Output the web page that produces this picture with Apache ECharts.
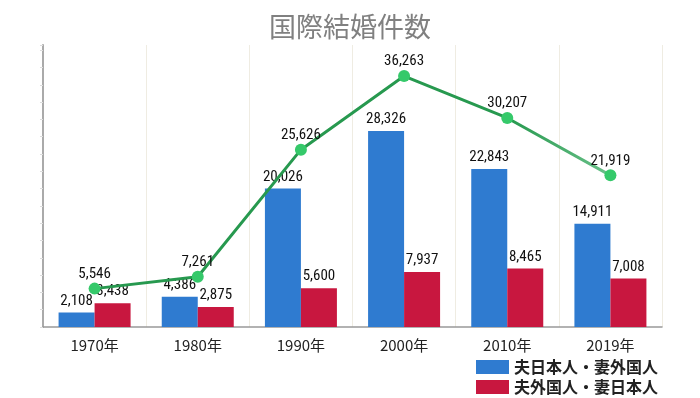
<!DOCTYPE html>
<html>
<head>
<meta charset="utf-8">
<script src="https://cdn.jsdelivr.net/npm/echarts@6/dist/echarts.min.js"></script>
<style>
  html, body { margin: 0; padding: 0; background: #fff; }
  #chart { width: 700px; height: 398px; }
</style>
</head>
<body>
<div id="chart"></div>
<script>
// 国際結婚件数
var years = ['1970年', '1980年', '1990年', '2000年', '2010年', '2019年'];
var husbandJp = [2108, 4386, 20026, 28326, 22843, 14911]; // 夫日本人・妻外国人
var wifeJp = [3438, 2875, 5600, 7937, 8465, 7008];       // 夫外国人・妻日本人
var totals = [5546, 7261, 25626, 36263, 30207, 21919];

var numFont = "'Roboto Condensed', 'Liberation Sans Narrow', 'DejaVu Sans Condensed', sans-serif";
var jpFont = "'Noto Sans CJK JP', sans-serif";

function fmt(p) {
  return echarts.format.addCommas(p.value);
}

var myChart = echarts.init(document.getElementById('chart'));
var option = {
  animation: false,
  title: {
    text: '国際結婚件数',
    left: 'center',
    top: 8,
    textStyle: { fontFamily: jpFont, fontSize: 27, fontWeight: 'normal', color: '#808080' }
  },
  legend: {
    data: ['夫日本人・妻外国人', '夫外国人・妻日本人'],
    orient: 'vertical',
    left: 476,
    top: 359,
    padding: 0,
    itemWidth: 33,
    itemHeight: 14,
    itemGap: 4,
    icon: 'rect',
    textStyle: { fontFamily: jpFont, fontSize: 16, lineHeight: 15, fontWeight: 'bold', color: '#222' }
  },
  grid: { left: 43, right: 38, top: 45, bottom: 71 },
  xAxis: {
    type: 'category',
    data: years,
    axisLine: { lineStyle: { color: '#999', width: 1.5 } },
    axisTick: { show: false },
    axisLabel: { fontFamily: jpFont, fontSize: 15, color: '#222', margin: 11 },
    splitLine: { show: true, lineStyle: { color: '#efece2', width: 1 } }
  },
  yAxis: {
    type: 'value',
    min: 0,
    max: 40750,
    interval: 2500,
    axisLine: { show: true, lineStyle: { color: '#aaa', width: 2 } },
    axisTick: { show: true, length: 3, lineStyle: { color: '#ddd' } },
    axisLabel: { show: false },
    splitLine: { show: false }
  },
  series: [
    {
      name: '夫日本人・妻外国人',
      type: 'bar',
      data: husbandJp,
      barWidth: 36,
      barGap: '0%',
      itemStyle: { color: '#2f7bd0' },
      label: { show: true, position: 'top', distance: 4, formatter: fmt,
        fontFamily: numFont, fontSize: 15, color: '#111' }
    },
    {
      name: '夫外国人・妻日本人',
      type: 'bar',
      data: wifeJp,
      barWidth: 36,
      itemStyle: { color: '#c8173f' },
      label: { show: true, position: 'top', distance: 4, formatter: fmt,
        fontFamily: numFont, fontSize: 15, color: '#111' }
    },
    {
      name: '合計',
      type: 'line',
      data: totals,
      z: 5,
      symbol: 'circle',
      symbolSize: 12,
      itemStyle: { color: '#35c96a' },
      lineStyle: {
        width: 3,
        color: new echarts.graphic.LinearGradient(0, 0, 1, 0, [
          { offset: 0, color: '#27994f' },
          { offset: 0.8, color: '#27994f' },
          { offset: 1, color: '#6cc28b' }
        ])
      },
      label: { show: true, position: 'top', distance: 1, formatter: fmt,
        fontFamily: numFont, fontSize: 15, color: '#111' }
    }
  ]
};
myChart.setOption(option);
</script>
</body>
</html>
